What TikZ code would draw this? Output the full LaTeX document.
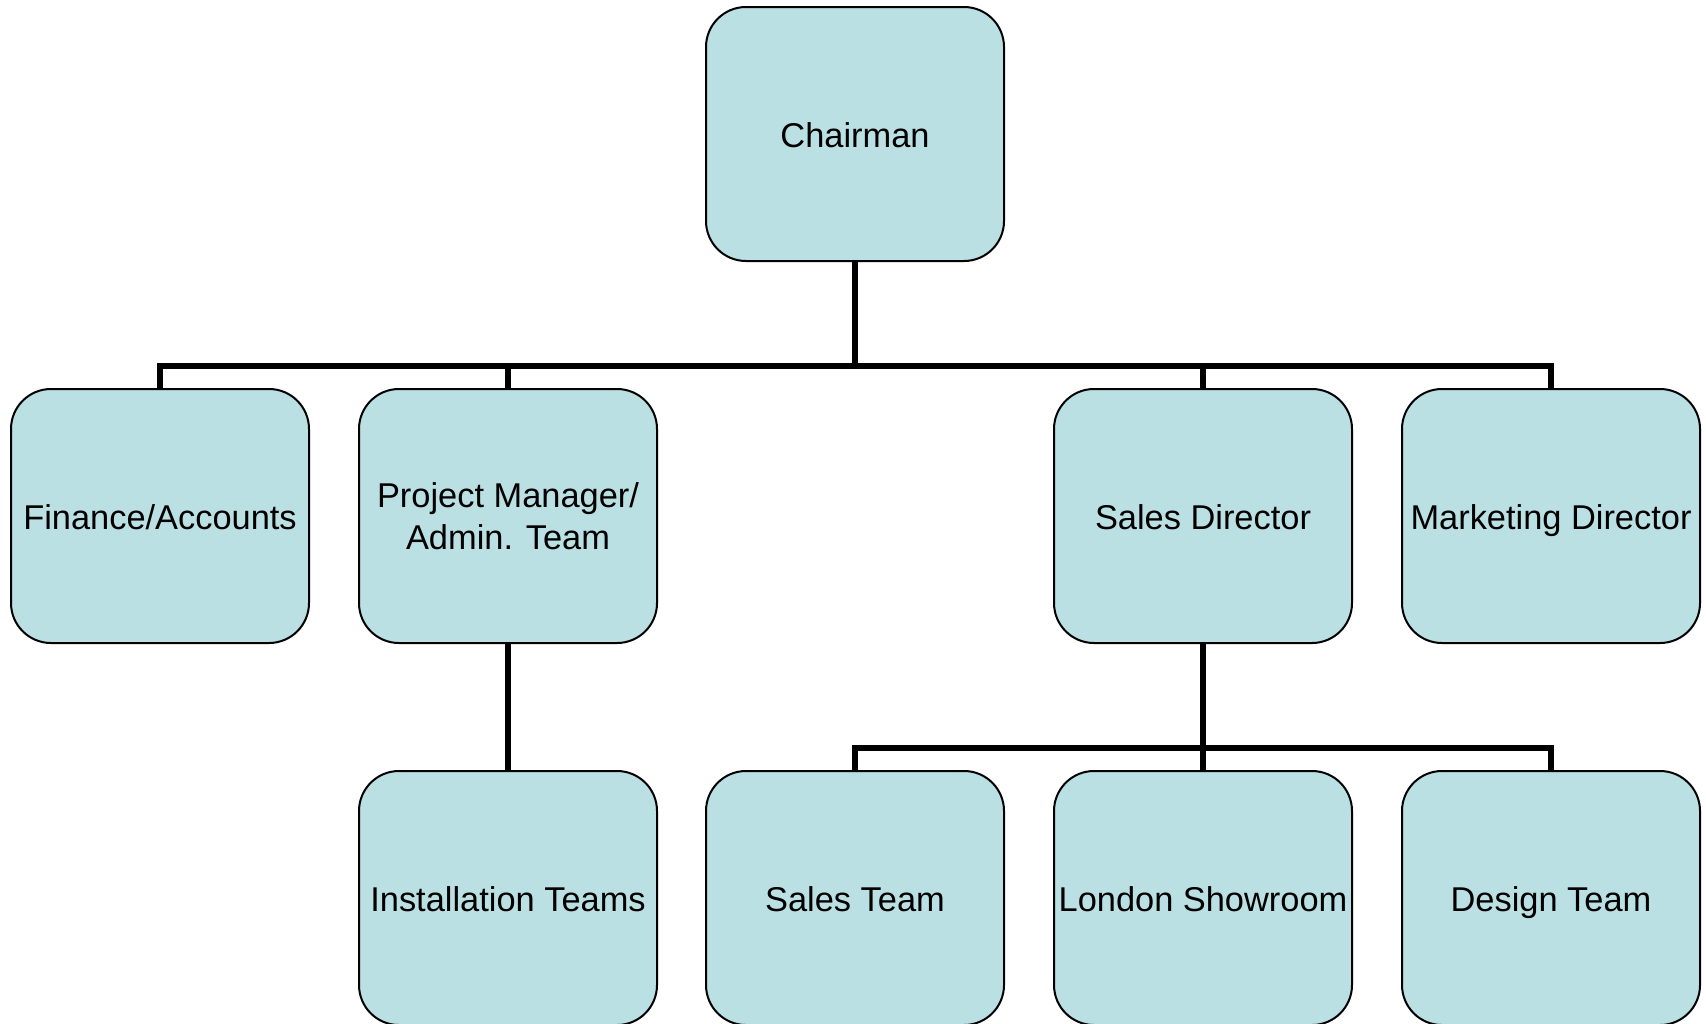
\documentclass[tikz,border=0pt]{standalone}
\usepackage{fontspec}
\setmainfont{Liberation Sans}
\definecolor{boxfill}{RGB}{186,224,227}
\tikzset{
  orgbox/.style={draw=black, line width=1pt, fill=boxfill, rounded corners=20pt,
    minimum width=149pt, minimum height=127pt, inner sep=0pt, align=center,
    font=\fontsize{17.2pt}{20.7pt}\selectfont},
  oneline/.style={orgbox, text height=15pt, text depth=2pt},
  conn/.style={draw=black, line width=3pt}
}
\begin{document}
\begin{tikzpicture}[x=0.5pt, y=-0.5pt]
\useasboundingbox (0,0) rectangle (1706,1023);
\node[oneline] (chair) at (855,134) {Chairman};
\node[oneline] (fin) at (160,516) {Finance/Accounts};
\node[orgbox] (pm) at (508,516) {Project Manager/\\Admin. Team};
\node[oneline] (sd) at (1203,516) {Sales Director};
\node[oneline] (mkt) at (1551,516) {Marketing Director};
\node[oneline] (inst) at (508,898) {Installation Teams};
\node[oneline] (st) at (855,898) {Sales Team};
\node[oneline] (ls) at (1203,898) {London Showroom};
\node[oneline] (dt) at (1551,898) {Design Team};
\coordinate (b1) at (855,366);
\coordinate (b2) at (1203,748);
\draw[conn] (chair.south) -- (b1);
\draw[conn] (fin.north) -- (fin.north |- b1) -| (mkt.north);
\draw[conn] (pm.north) -- (pm.north |- b1);
\draw[conn] (sd.north) -- (sd.north |- b1);
\draw[conn] (pm.south) -- (inst.north);
\draw[conn] (sd.south) -- (b2);
\draw[conn] (st.north) -- (st.north |- b2) -| (dt.north);
\draw[conn] (ls.north) -- (ls.north |- b2);
\end{tikzpicture}
\end{document}
